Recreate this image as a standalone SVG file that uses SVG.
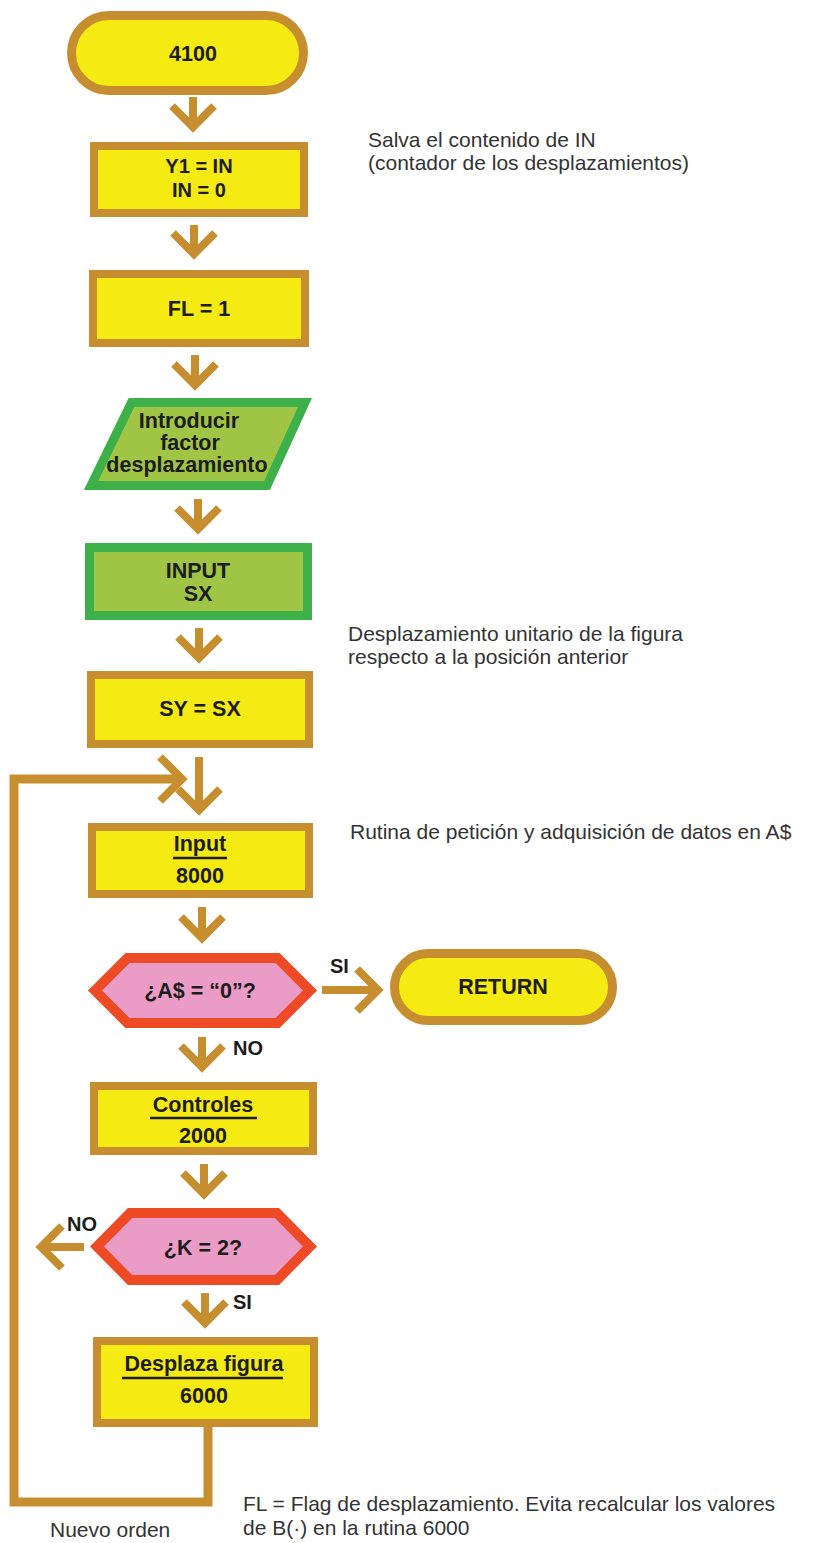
<svg xmlns="http://www.w3.org/2000/svg" width="818" height="1543" viewBox="0 0 818 1543">
<style>
.bg{fill:#ffffff}
.term{fill:#F5EA12;stroke:#C68E2E;stroke-width:9}
.proc{fill:#F5EA12;stroke:#C68E2E;stroke-width:8}
.io{fill:#A0C545;stroke:#3DB04A;stroke-width:9;stroke-linejoin:miter}
.dec{fill:#EA9BC6;stroke:#EF4A26;stroke-width:10;stroke-linejoin:miter}
.arr{fill:none;stroke:#C68E2E;stroke-width:8;stroke-linejoin:miter;stroke-linecap:butt}
.loop{fill:none;stroke:#C68E2E;stroke-width:9;stroke-linejoin:miter}
.lb{font-family:"Liberation Sans",Arial,Helvetica,sans-serif;font-weight:bold;font-size:21.5px;fill:#1c1c1c;text-anchor:middle}
.lbs{font-family:"Liberation Sans",Arial,Helvetica,sans-serif;font-weight:bold;font-size:20px;fill:#1c1c1c}
.note{font-family:"Liberation Sans",Arial,Helvetica,sans-serif;font-size:21px;fill:#333333}
.ul{stroke:#1c1c1c;stroke-width:2.5}
</style>
<rect class="bg" x="0" y="0" width="818" height="1543"/>

<g id="connectors">
  <path class="arr" d="M193,97 V127 M172,106 L193,127 L214,106"/>
  <path class="arr" d="M194,225 V254 M173,233 L194,254 L215,233"/>
  <path class="arr" d="M195,355 V385 M174,364 L195,385 L216,364"/>
  <path class="arr" d="M198,499 V529 M177,508 L198,529 L219,508"/>
  <path class="arr" d="M199,628 V658 M178,637 L199,658 L220,637"/>
  <polyline class="loop" points="208,1427 208,1502 14,1502 14,779 178,779"/>
  <path class="arr" d="M160,757 L182,779 L160,801"/>
  <path class="arr" d="M199,757 V810 M178,789 L199,810 L220,789"/>
  <path class="arr" d="M202,907 V938 M181,917 L202,938 L223,917"/>
  <path class="arr" d="M322,990 H378 M357,969 L378,990 L357,1011"/>
  <path class="arr" d="M202,1037 V1067 M181,1046 L202,1067 L223,1046"/>
  <path class="arr" d="M204,1164 V1194 M183,1173 L204,1194 L225,1173"/>
  <path class="arr" d="M84,1247 H41 M62,1226 L41,1247 L62,1268"/>
  <path class="arr" d="M205,1293 V1323 M184,1302 L205,1323 L226,1302"/>
  <text class="lbs" x="330" y="973">SI</text>
  <text class="lbs" x="233" y="1055">NO</text>
  <text class="lbs" x="67" y="1231">NO</text>
  <text class="lbs" x="233" y="1309">SI</text>
</g>

<g id="n_start">
  <rect class="term" x="71.5" y="15.5" width="232" height="75" rx="37.5"/>
  <text class="lb" x="193" y="61">4100</text>
</g>

<g id="n_y1">
  <rect class="proc" x="94" y="146" width="210" height="67"/>
  <text class="lb" x="199" y="173" style="font-size:20px">Y1 = IN</text>
  <text class="lb" x="199" y="197" style="font-size:20px">IN = 0</text>
</g>

<g id="n_fl">
  <rect class="proc" x="93" y="274" width="212" height="69"/>
  <text class="lb" x="199" y="316">FL = 1</text>
</g>

<g id="n_intro">
  <polygon class="io" points="131.5,402.5 305,402.5 267,485.5 91,485.5"/>
  <text class="lb" x="189" y="428">Introducir</text>
  <text class="lb" x="190" y="450">factor</text>
  <text class="lb" x="187" y="472">desplazamiento</text>
</g>

<g id="n_input">
  <rect class="io" x="89.5" y="547.5" width="218" height="68"/>
  <text class="lb" x="198" y="578">INPUT</text>
  <text class="lb" x="198" y="601">SX</text>
</g>

<g id="n_sy">
  <rect class="proc" x="91" y="675" width="218" height="69"/>
  <text class="lb" x="200" y="716">SY = SX</text>
</g>

<g id="n_input8000">
  <rect class="proc" x="92" y="827" width="217" height="67"/>
  <text class="lb" x="200" y="851">Input</text>
  <line class="ul" x1="173" y1="858" x2="227" y2="858"/>
  <text class="lb" x="200" y="883">8000</text>
</g>

<g id="n_dec1">
  <polygon class="dec" points="95,990.5 127.5,958 277.5,958 310,990.5 277.5,1023 127.5,1023"/>
  <text class="lb" x="200" y="998">¿A$ = “0”?</text>
</g>

<g id="n_return">
  <rect class="term" x="394.5" y="953.5" width="218" height="67" rx="33.5"/>
  <text class="lb" x="503" y="994">RETURN</text>
</g>

<g id="n_controles">
  <rect class="proc" x="94" y="1086" width="219" height="65"/>
  <text class="lb" x="203" y="1112">Controles</text>
  <line class="ul" x1="150" y1="1118" x2="257" y2="1118"/>
  <text class="lb" x="203" y="1143">2000</text>
</g>

<g id="n_dec2">
  <polygon class="dec" points="97,1246.5 130,1213 277,1213 310,1246.5 277,1280 130,1280"/>
  <text class="lb" x="203" y="1255">¿K = 2?</text>
</g>

<g id="n_desplaza">
  <rect class="proc" x="97" y="1341" width="217" height="82"/>
  <text class="lb" x="204" y="1371">Desplaza figura</text>
  <line class="ul" x1="122" y1="1378" x2="283" y2="1378"/>
  <text class="lb" x="204" y="1403">6000</text>
</g>

<g id="notes">
  <text class="note" x="368" y="147">Salva el contenido de IN</text>
  <text class="note" x="368" y="170">(contador de los desplazamientos)</text>
  <text class="note" x="348" y="641">Desplazamiento unitario de la figura</text>
  <text class="note" x="348" y="664">respecto a la posición anterior</text>
  <text class="note" x="350" y="839">Rutina de petición y adquisición de datos en A$</text>
  <text class="note" x="243" y="1511">FL = Flag de desplazamiento. Evita recalcular los valores</text>
  <text class="note" x="243" y="1535">de B(·) en la rutina 6000</text>
  <text class="note" x="50" y="1537">Nuevo orden</text>
</g>
</svg>
